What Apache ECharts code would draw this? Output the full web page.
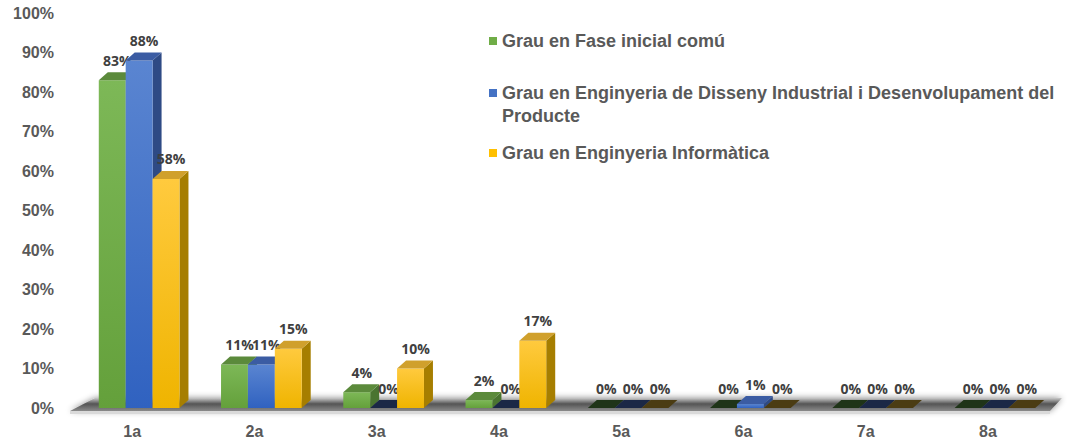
<!DOCTYPE html>
<html>
<head>
<meta charset="utf-8">
<script src="https://cdn.jsdelivr.net/npm/echarts@6/dist/echarts.min.js"></script>
<style>
html, body { margin: 0; background: #fff; }
#chart { width: 1073px; height: 445px; }
</style>
</head>
<body>
<div id="chart"></div>
<script>
const categories = ["1a", "2a", "3a", "4a", "5a", "6a", "7a", "8a"];
const seriesNames = [
    "Grau en Fase inicial comú",
    "Grau en Enginyeria de Disseny Industrial i Desenvolupament del Producte",
    "Grau en Enginyeria Informàtica"
];
const faseInicial = [83, 11, 4, 2, 0, 0, 0, 0];
const disseny = [88, 11, 0, 0, 0, 1, 0, 0];
const informatica = [58, 15, 10, 17, 0, 0, 0, 0];

// face colours for each series: front gradient, top, side, flat (0 value)
const palette = [
    { base: "#70ad47", front: ["#7db857", "#64a03b"], top: "#5b8a3b", side: "#4a7430", flat: "#1f3418" },
    { base: "#4472c4", front: ["#5a85d1", "#3062c0"], top: "#3b5ca3", side: "#2e4a85", flat: "#1b2846" },
    { base: "#ffc000", front: ["#ffca3e", "#efb400"], top: "#d0a02c", side: "#a67e00", flat: "#4b3c13" }
];

const DX = 9;   // depth offset to the right
const DY = 8;   // depth offset upwards
const SHIFT = 7;

const axisText = {
    color: "#595959",
    fontFamily: "Liberation Sans, Arial, sans-serif",
    fontWeight: "bold",
    fontSize: 16
};

function renderBar(idx) {
    const colors = palette[idx];
    return function (params, api) {
        const cat = api.value(0);
        const val = api.value(1);
        const band = api.size([1, 0])[0];
        const barW = band * 0.22;
        const top = api.coord([cat, val]);
        const base = api.coord([cat, 0]);
        const x0 = top[0] - 1.5 * barW + idx * barW + SHIFT;
        const ty = top[1];
        const by = base[1];
        const children = [];

        if (by - ty < 0.5) {
            children.push({
                type: "polygon",
                shape: { points: [[x0, by], [x0 + barW, by], [x0 + barW + DX, by - DY], [x0 + DX, by - DY]] },
                style: { fill: colors.flat }
            });
        } else {
            children.push({
                type: "polygon",
                shape: { points: [[x0 + barW, ty], [x0 + barW + DX, ty - DY], [x0 + barW + DX, by - DY], [x0 + barW, by]] },
                style: { fill: colors.side }
            });
            children.push({
                type: "rect",
                shape: { x: x0, y: ty, width: barW, height: by - ty },
                style: {
                    fill: {
                        type: "linear", x: 0, y: 0, x2: 0, y2: 1,
                        colorStops: [
                            { offset: 0, color: colors.front[0] },
                            { offset: 1, color: colors.front[1] }
                        ]
                    }
                }
            });
            children.push({
                type: "polygon",
                shape: { points: [[x0, ty], [x0 + barW, ty], [x0 + barW + DX, ty - DY], [x0 + DX, ty - DY]] },
                style: { fill: colors.top }
            });
        }

        children.push({
            type: "text",
            x: x0 + barW / 2 + 5,
            y: ty - 20,
            style: {
                text: val + "%",
                fill: "#404040",
                font: "bold 14px 'Open Sans', sans-serif",
                align: "center",
                verticalAlign: "middle"
            }
        });

        return { type: "group", children };
    };
}

function renderFloor(params) {
    const cs = params.coordSys;
    const by = cs.y + cs.height;
    const left = cs.x;
    const right = cs.x + cs.width;
    return {
        type: "group",
        children: [{
            type: "polygon",
            shape: { points: [[left - 1, by + 3], [right + 1, by + 3], [right + 13, by - 10], [left + 24, by - 10]] },
            style: {
                fill: {
                    type: "linear", x: 0, y: 0, x2: 0, y2: 1,
                    colorStops: [
                        { offset: 0, color: "#c8c8c8" },
                        { offset: 0.45, color: "#555555" },
                        { offset: 1, color: "#8a8a8a" }
                    ]
                },
                shadowBlur: 6,
                shadowColor: "rgba(0,0,0,0.45)"
            }
        }, {
            type: "rect",
            shape: { x: left - 1, y: by + 3, width: cs.width + 2, height: 3 },
            style: { fill: "#dadada" }
        }]
    };
}

const allValues = [faseInicial, disseny, informatica];

const chart = echarts.init(document.getElementById("chart"), null, { renderer: "svg" });

const legendText = Object.assign({}, axisText, { fontSize: 18, lineHeight: 23 });
const legendBase = {
    orient: "vertical",
    left: 489,
    padding: 0,
    icon: "rect",
    itemWidth: 8,
    itemHeight: 8,
    selectedMode: false,
    textStyle: legendText
};

chart.setOption({
    animation: false,
    grid: {
        top: 13,
        bottom: 37,
        left: 71,
        right: 24
    },
    xAxis: {
        type: "category",
        data: categories,
        axisLine: { show: false },
        axisTick: { show: false },
        axisLabel: Object.assign({ margin: 15 }, axisText)
    },
    yAxis: {
        type: "value",
        min: 0,
        max: 100,
        interval: 10,
        axisLine: { show: false },
        axisTick: { show: false },
        splitLine: { show: false },
        axisLabel: Object.assign({ margin: 17, formatter: "{value}%" }, axisText)
    },
    legend: [
        Object.assign({}, legendBase, {
            top: 29.5,
            data: [seriesNames[0]]
        }),
        Object.assign({}, legendBase, {
            top: 58.5,
            data: [seriesNames[1]],
            // blank first line keeps the icon level with the first text line
            formatter: () => " \nGrau en Enginyeria de Disseny Industrial i Desenvolupament del\nProducte"
        }),
        Object.assign({}, legendBase, {
            top: 141.5,
            data: [seriesNames[2]]
        })
    ],
    series: [{
        type: "custom",
        name: "floor",
        z: 1,
        silent: true,
        renderItem: renderFloor,
        data: [[0, 0]]
    }].concat(allValues.map((values, i) => ({
        type: "custom",
        name: seriesNames[i],
        z: 2,
        itemStyle: { color: palette[i].base },
        encode: { x: 0, y: 1 },
        renderItem: renderBar(i),
        data: values.map((v, c) => [c, v])
    })))
});
</script>
</body>
</html>
